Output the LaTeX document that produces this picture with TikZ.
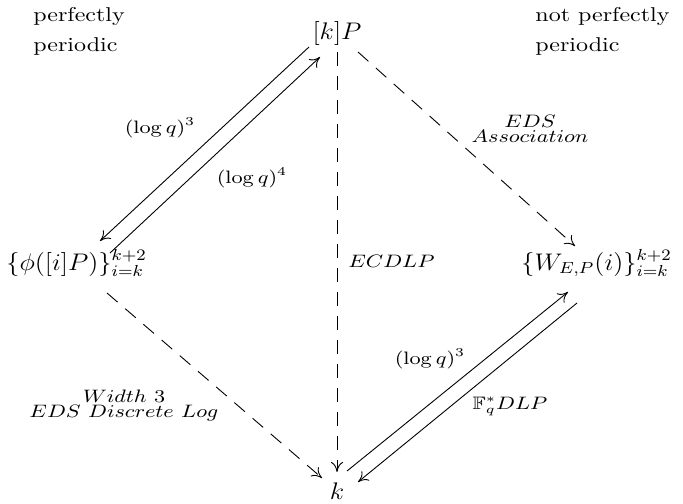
\documentclass[tikz,border=0pt]{standalone}
\usepackage{amssymb}
\usetikzlibrary{arrows.meta}
\newcommand{\wideX}[1]{\scalebox{1.2}[1]{#1}}
\newcommand{\wideN}[1]{\scalebox{1.1}[1]{#1}}
\begin{document}
\begin{tikzpicture}[x=0.5pt,y=-0.5pt,
  lbl/.style={inner sep=0pt, font=\small},
  txt/.style={inner sep=0pt},
  mn/.style={inner sep=0pt, font=\large},
  ln/.style={line width=0.45pt},
  dsh/.style={ln, dash pattern=on 7pt off 5pt},
  tip/.style={-{Computer Modern Rightarrow[length=5pt,width=6pt]}}]
\useasboundingbox (0,0) rectangle (683,503);
% corner texts
\node[txt, anchor=north west, align=left] (pl) at (33,7) {\wideX{perfectly}\\[3pt]\wideX{periodic}};
\node[txt, anchor=north west, align=left] (npl) at (535,7) {\wideX{not perfectly}\\[3pt]\wideX{periodic}};
% main nodes
\node[mn, anchor=base] (kP) at (337,39) {\wideN{$[k]P$}};
\node[mn, anchor=base] (k) at (337,499) {\wideN{$k$}};
\node[mn, anchor=base west] (phi) at (6,270) {\wideN{$\{\phi([i]P)\}_{i=k}^{k+2}$}};
\node[mn, anchor=base west] (W) at (521,270) {\wideN{$\{W_{E,P}(i)\}_{i=k}^{k+2}$}};
% connector ends
\coordinate (kPa) at (309,47);  \coordinate (phiA) at (100,241);
\coordinate (phiB) at (110,253); \coordinate (kPb) at (320,57);
\coordinate (kC) at (347,471);  \coordinate (WC) at (568,292);
\coordinate (WD) at (577,303);  \coordinate (kD) at (358,482);
\coordinate (kPv) at (337,52);  \coordinate (kv) at (337,472);
\coordinate (kPr) at (358,52);  \coordinate (Wr) at (575,246);
\coordinate (phiL) at (107,293); \coordinate (kL) at (322,478);
% connectors
\draw[ln,tip] (kPa) -- (phiA);
\draw[ln,tip] (phiB) -- (kPb);
\draw[ln,tip] (kC) -- (WC);
\draw[ln,tip] (WD) -- (kD);
\draw[dsh,tip] (kPv) -- (kv);
\draw[dsh,tip] (kPr) -- (Wr);
\draw[dsh,tip] (phiL) -- (kL);
% labels
\node[lbl] (l3a) at (160,128) {\wideX{$(\log q)^3$}};
\node[lbl] (l4) at (252,178) {\wideX{$(\log q)^4$}};
\node[lbl] (l3b) at (430,359) {\wideX{$(\log q)^3$}};
\node[lbl] (fq) at (510,406) {\wideX{$\mathbb{F}_q^*DLP$}};
\node[lbl, anchor=base west] (ec) at (348,267) {\wideX{$ECDLP$}};
\node[lbl, anchor=north, align=center] (eds) at (530,115) {\wideX{$EDS$}\\[-3.5pt]\wideX{$Association$}};
\node[lbl, anchor=north, align=center] (wd) at (124,390) {\wideX{$Width\ 3$}\\[-3.5pt]\wideX{$EDS\ Discrete\ Log$}};
\end{tikzpicture}
\end{document}
